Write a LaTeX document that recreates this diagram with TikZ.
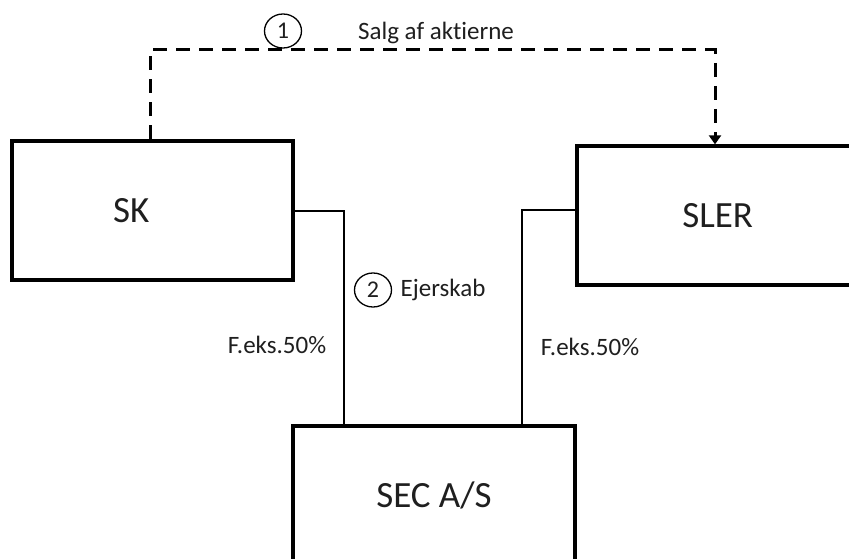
\documentclass[tikz,border=0pt]{standalone}
\usepackage{fontspec}
\setmainfont{Carlito}[Ligatures={NoCommon}]
\usetikzlibrary{arrows.meta,shapes.geometric}
\begin{document}
\begin{tikzpicture}[x=1pt,y=-1pt,
  box/.style={draw, line width=4pt, minimum width=281.5pt, minimum height=139pt, inner sep=0pt, text=black!88, font=\fontsize{37}{40}\selectfont},
  conn/.style={line width=2pt},
  dashconn/.style={line width=3pt, dash pattern=on 14pt off 9pt},
  numc/.style={draw, ellipse, line width=1.3pt, minimum width=37pt, minimum height=34pt, inner sep=0pt, text=black!88, font=\fontsize{24}{26}\selectfont},
  lbl/.style={inner sep=0pt, text=black!88, font=\fontsize{25}{28}\selectfont}
]
\clip (0,0) rectangle (849,559);
\node[box, label={[xshift=-21pt, text=black!88, font=\fontsize{37}{40}\selectfont]center:SK}] (sk) at (152.25,210.5) {};
\node[box] (sler) at (717.75,215.85) {SLER};
\node[box] (sec) at (434,495.5) {SEC A/S};
\draw[conn] (sk.east) -| ([xshift=-90pt]sec.north);
\draw[conn] ([yshift=5.85pt]sler.west) -| ([xshift=88pt]sec.north);
\coordinate (d1) at (150,50);
\coordinate (d2) at (715,50);
\draw[dashconn, -{Triangle[width=12pt,length=9pt]}] ([xshift=-2.25pt]sk.north) -- (d1) -- (d2) -- ([xshift=-2.75pt]sler.north);
\node[numc] (n1) at (283,31) {1};
\node[numc] (n2) at (373,290) {2};
\node[lbl] (salg) at (436,33) {Salg af aktierne};
\node[lbl] (ejer) at (443,290) {Ejerskab};
\node[lbl] (pl) at (277,345) {F.eks.50\%};
\node[lbl] (pr) at (590,347) {F.eks.50\%};
\end{tikzpicture}
\end{document}
